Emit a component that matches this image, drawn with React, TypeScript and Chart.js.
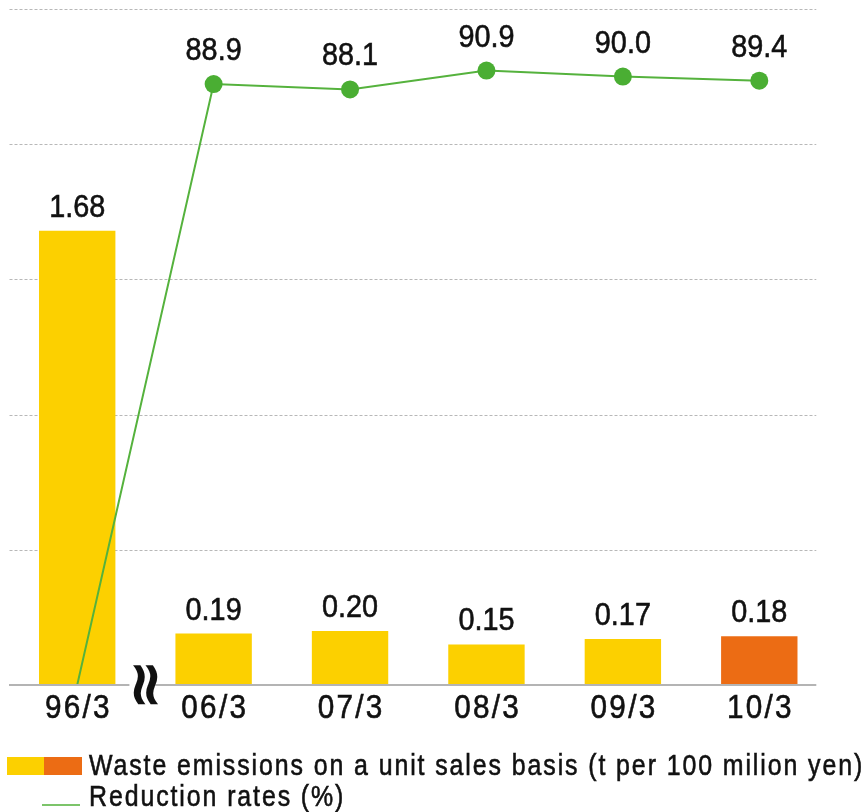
import React, { useEffect, useRef } from 'react';
import { Chart, registerables } from 'chart.js';

Chart.register(...registerables);

const categories = ['96/3', '06/3', '07/3', '08/3', '09/3', '10/3'];
const emissions = [1.68, 0.19, 0.2, 0.15, 0.17, 0.18];
const emissionLabels = ['1.68', '0.19', '0.20', '0.15', '0.17', '0.18'];
const reductionRates = [0, 88.9, 88.1, 90.9, 90.0, 89.4];
const reductionLabels = ['', '88.9', '88.1', '90.9', '90.0', '89.4'];
const barColors = ['#FCD000', '#FCD000', '#FCD000', '#FCD000', '#FCD000', '#EC6C14'];
const pointRadii = [0, 9, 9, 9, 9, 9];
const emissionTicks = [0, 0.5, 1, 1.5, 2, 2.5];
const legendLabels = [
  'Waste emissions on a unit sales basis (t per 100 milion yen)',
  'Reduction rates (%)',
];

const YELLOW = '#FCD000';
const ORANGE = '#EC6C14';
const GREEN_LINE = '#55B23D';
const GREEN_POINT = '#4AAE33';
const TEXT = '#111111';
const FONT = '"Liberation Sans", Arial, sans-serif';

function drawText(
  ctx: CanvasRenderingContext2D,
  text: string,
  x: number,
  y: number,
  size: number,
  sx: number,
  spacing: number,
  align: 'left' | 'center'
) {
  ctx.save();
  ctx.font = `${size}px ${FONT}`;
  (ctx as any).letterSpacing = `${spacing}px`;
  ctx.textBaseline = 'alphabetic';
  ctx.textAlign = 'left';
  ctx.fillStyle = TEXT;
  const w = (ctx.measureText(text).width - spacing) * sx;
  const x0 = align === 'center' ? x - w / 2 : x;
  ctx.translate(x0, y);
  ctx.scale(sx, 1);
  ctx.fillText(text, 0, 0);
  ctx.strokeStyle = TEXT;
  ctx.lineWidth = 0.6;
  ctx.strokeText(text, 0, 0);
  ctx.restore();
}

const overlayPlugin = {
  id: 'overlay',
  beforeDatasetsDraw(chart: any) {
    const { ctx, scales } = chart;
    const left = chart.chartArea.left + 0.5;
    const right = scales.x.getPixelForValue(categories.length - 1) + 57;
    ctx.save();
    ctx.strokeStyle = '#b8b8b8';
    ctx.lineWidth = 1;
    ctx.setLineDash([3, 2]);
    for (const v of emissionTicks) {
      if (v === 0) continue;
      const y = Math.round(scales.y.getPixelForValue(v)) + 0.5;
      ctx.beginPath();
      ctx.moveTo(left, y);
      ctx.lineTo(right, y);
      ctx.stroke();
    }
    ctx.restore();
  },
  afterDatasetsDraw(chart: any) {
    const { ctx, scales } = chart;
    const left = chart.chartArea.left;
    const right = scales.x.getPixelForValue(categories.length - 1) + 57;
    const y0 = scales.y.getPixelForValue(0);

    // axis line
    ctx.save();
    ctx.strokeStyle = '#b4b4b4';
    ctx.lineWidth = 2;
    ctx.beginPath();
    ctx.moveTo(left, y0);
    ctx.lineTo(right, y0);
    ctx.stroke();
    ctx.restore();

    // axis break symbol between first and second category
    const bx = (scales.x.getPixelForValue(0) + scales.x.getPixelForValue(1)) / 2 - 3;
    ctx.save();
    ctx.fillStyle = '#ffffff';
    ctx.fillRect(bx - 13, y0 - 3, 26, 6);
    ctx.translate(bx, y0);
    ctx.rotate(Math.PI / 2);
    ctx.font = `bold 62px "DejaVu Sans", sans-serif`;
    ctx.textAlign = 'center';
    ctx.textBaseline = 'middle';
    ctx.fillStyle = '#111';
    ctx.fillText('\u2248', 0, 0);
    ctx.restore();

    // category tick labels
    categories.forEach((c, i) => {
      const x = scales.x.getPixelForValue(i);
      drawText(ctx, c, x, y0 + 33, 33, 0.9, 2.5, 'center');
    });

    // bar value labels
    const barMeta = chart.getDatasetMeta(0);
    barMeta.data.forEach((el: any, i: number) => {
      drawText(ctx, emissionLabels[i], el.x, el.y - 14, 32, 0.9, 0, 'center');
    });

    // line value labels
    const lineMeta = chart.getDatasetMeta(1);
    lineMeta.data.forEach((el: any, i: number) => {
      if (!reductionLabels[i]) return;
      drawText(ctx, reductionLabels[i], el.x, el.y - 24, 32, 0.9, 0, 'center');
    });

    // legend
    const ly1 = y0 + 72;
    ctx.save();
    ctx.fillStyle = YELLOW;
    ctx.fillRect(7, ly1, 37, 18);
    ctx.fillStyle = ORANGE;
    ctx.fillRect(44, ly1, 38, 18);
    ctx.strokeStyle = '#7cc46a';
    ctx.lineWidth = 2;
    ctx.beginPath();
    ctx.moveTo(42, ly1 + 48);
    ctx.lineTo(80, ly1 + 48);
    ctx.stroke();
    ctx.restore();
    drawText(ctx, legendLabels[0], 89, ly1 + 18, 30, 0.83, 2.3, 'left');
    drawText(ctx, legendLabels[1], 89, ly1 + 49, 30, 0.83, 2.3, 'left');
  },
};

export default function App() {
  const ref = useRef<HTMLCanvasElement | null>(null);

  useEffect(() => {
    document.body.style.margin = '0';
    const canvas = ref.current;
    if (!canvas) return;
    const chart = new Chart(canvas, {
      type: 'bar',
      data: {
        labels: categories,
        datasets: [
          {
            type: 'bar',
            label: legendLabels[0],
            data: emissions,
            backgroundColor: barColors,
            borderWidth: 0,
            yAxisID: 'y',
            barPercentage: 0.56,
            categoryPercentage: 1,
            order: 2,
          },
          {
            type: 'line',
            label: legendLabels[1],
            data: reductionRates,
            borderColor: GREEN_LINE,
            borderWidth: 2,
            pointRadius: pointRadii,
            pointBackgroundColor: GREEN_POINT,
            pointBorderWidth: 0,
            tension: 0,
            yAxisID: 'y1',
            order: 1,
          },
        ],
      },
      options: {
        responsive: false,
        animation: false,
        events: [],
        layout: { padding: { left: 5.5, right: 39.5, top: 7, bottom: 127 } },
        plugins: { legend: { display: false }, tooltip: { enabled: false } },
        scales: {
          x: { type: 'category', display: false, offset: true },
          y: { display: false, min: 0, max: 2.5 },
          y1: { display: false, min: 0, max: 100, position: 'right' },
        },
      },
      plugins: [overlayPlugin],
    } as any);
    return () => chart.destroy();
  }, []);

  return (
    <div style={{ width: 867, height: 812 }}>
      <canvas ref={ref} width={867} height={812} style={{ display: 'block' }} />
    </div>
  );
}
